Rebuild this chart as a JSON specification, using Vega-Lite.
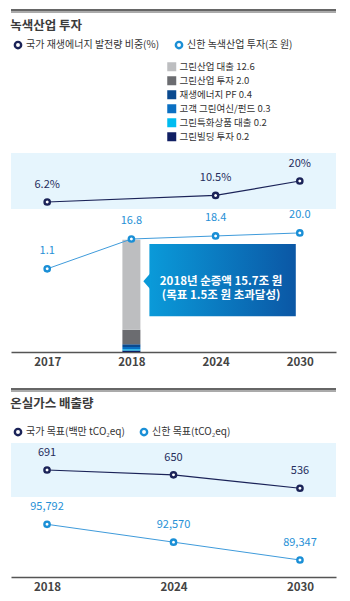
{
  "$schema": "https://vega.github.io/schema/vega-lite/v6.json",
  "padding": {"left": 10, "top": 9, "right": 15, "bottom": 0},
  "background": "white",
  "bounds": "flush",
  "spacing": 0,
  "config": {
    "view": {"stroke": null},
    "font": "Noto Sans CJK KR",
    "text": {"font": "Noto Sans CJK KR"},
    "legend": {"labelFont": "Noto Sans CJK KR", "padding": 0},
    "axis": {"labelFont": "Noto Sans CJK KR"},
    "title": {"font": "Noto Sans CJK KR"}
  },
  "resolve": {
    "scale": {"x": "independent", "y": "independent", "stroke": "independent", "fill": "independent", "color": "independent"},
    "legend": {"stroke": "independent", "fill": "independent"}
  },
  "datasets": {
    "energy": [
      {"year": "2017", "value": 6.2, "series": "국가 재생에너지 발전량 비중(%)", "label": "6.2%"},
      {"year": "2024", "value": 10.5, "series": "국가 재생에너지 발전량 비중(%)", "label": "10.5%"},
      {"year": "2030", "value": 20, "series": "국가 재생에너지 발전량 비중(%)", "label": "20%"}
    ],
    "invest": [
      {"year": "2017", "value": 1.1},
      {"year": "2018", "value": 16.8},
      {"year": "2024", "value": 18.4},
      {"year": "2030", "value": 20.0}
    ],
    "breakdown": [
      {"year": "2018", "item": "그린빌딩 투자 0.2", "amount": 0.2},
      {"year": "2018", "item": "그린특화상품 대출 0.2", "amount": 0.2},
      {"year": "2018", "item": "고객 그린여신/펀드 0.3", "amount": 0.3},
      {"year": "2018", "item": "재생에너지 PF 0.4", "amount": 0.4},
      {"year": "2018", "item": "그린산업 투자 2.0", "amount": 2.0},
      {"year": "2018", "item": "그린산업 대출 12.6", "amount": 12.6}
    ],
    "ghgNational": [
      {"year": "2018", "value": 691, "series": "국가 목표(백만 tCO₂eq)"},
      {"year": "2024", "value": 650, "series": "국가 목표(백만 tCO₂eq)"},
      {"year": "2030", "value": 536, "series": "국가 목표(백만 tCO₂eq)"}
    ],
    "ghgShinhan": [
      {"year": "2018", "value": 95792},
      {"year": "2024", "value": 92570},
      {"year": "2030", "value": 89347}
    ]
  },
  "vconcat": [
    {
      "width": 325, "height": 2,
      "data": {"values": [{}]},
      "title": {"text": "녹색산업 투자", "orient": "bottom", "anchor": "start", "fontSize": 12.5, "fontWeight": "bold", "color": "#3b3b3b", "offset": 8},
      "layer": [
        {"mark": {"type": "rule", "color": "#333333", "strokeWidth": 1.5}, "encoding": {"y": {"datum": 1, "type": "quantitative", "scale": {"domain": [0, 1]}, "axis": null}}},
        {"mark": {"type": "rule", "color": "#444444", "strokeWidth": 0.9}, "encoding": {"y": {"datum": 0, "type": "quantitative", "scale": {"domain": [0, 1]}, "axis": null}}}
      ]
    },
    {"width": 325, "height": 141, "data": {"values": []}, "mark": "point", "encoding": {}},
    {
      "width": 325, "height": 56,
      "view": {"fill": "#e6f5fd", "stroke": null},
      "data": {"name": "energy"},
      "encoding": {
        "x": {"field": "year", "type": "ordinal", "scale": {"type": "point", "domain": ["2017", "2018", "2024", "2030"], "padding": 0.43}, "axis": null},
        "y": {"field": "value", "type": "quantitative", "scale": {"domain": [1.6, 38.4], "nice": false, "zero": false}, "axis": null}
      },
      "layer": [
        {"mark": {"type": "line", "color": "#1b2358", "strokeWidth": 1.2}},
        {
          "mark": {"type": "point", "filled": true, "fill": "white", "size": 28, "strokeWidth": 2.4, "opacity": 1},
          "encoding": {
            "stroke": {
              "field": "series", "type": "nominal",
              "scale": {"domain": ["국가 재생에너지 발전량 비중(%)", "신한 녹색산업 투자(조 원)"], "range": ["#1b2358", "#1a8fd6"]},
              "legend": {"orient": "none", "legendX": 2, "legendY": -113, "direction": "horizontal", "title": null, "symbolType": "circle", "symbolSize": 40, "symbolStrokeWidth": 2.4, "symbolFillColor": "white", "labelFontSize": 10, "labelColor": "#333333", "labelOffset": 3, "columnPadding": 11}
            }
          }
        },
        {"mark": {"type": "text", "dy": -17, "fontSize": 11, "color": "#252d5c"}, "encoding": {"text": {"field": "label"}}}
      ]
    },
    {
      "width": 325, "height": 143,
      "resolve": {"scale": {"y": "independent"}},
      "layer": [
        {
          "layer": [
            {
              "data": {"name": "breakdown"},
              "transform": [{"window": [{"op": "row_number", "as": "stackOrder"}]}],
              "mark": {"type": "bar", "width": 18},
              "encoding": {
                "x": {"field": "year", "type": "ordinal", "scale": {"type": "point", "domain": ["2017", "2018", "2024", "2030"], "padding": 0.43},
                  "axis": {"title": null, "ticks": false, "domainColor": "#555555", "domainWidth": 1.3, "labelFontSize": 11.5, "labelFontWeight": "bold", "labelColor": "#444444", "labelPadding": 4, "labelAngle": 0, "grid": false}},
                "y": {"field": "amount", "type": "quantitative", "stack": "zero", "scale": {"domain": [0, 20], "nice": false}, "axis": null},
                "fill": {
                  "field": "item", "type": "nominal",
                  "scale": {
                    "domain": ["그린산업 대출 12.6", "그린산업 투자 2.0", "재생에너지 PF 0.4", "고객 그린여신/펀드 0.3", "그린특화상품 대출 0.2", "그린빌딩 투자 0.2"],
                    "range": ["#bdbec0", "#6b6c70", "#0a4a8f", "#0a6fc2", "#00bcf0", "#101f63"]
                  },
                  "legend": {"orient": "none", "legendX": 156, "legendY": -147, "title": null, "symbolType": "square", "symbolSize": 81, "symbolStrokeWidth": 0, "labelFontSize": 9.5, "labelColor": "#333333", "labelOffset": 3, "rowPadding": 3}
                },
                "order": {"field": "stackOrder", "type": "quantitative", "sort": "ascending"}
              }
            },
            {
              "data": {"values": [{}]},
              "mark": {
                "type": "rect", "xOffset": 18, "x2Offset": -4,
                "fill": {"gradient": "linear", "x1": 0, "y1": 0, "x2": 1, "y2": 0, "stops": [{"offset": 0, "color": "#0a9ad9"}, {"offset": 1, "color": "#0b57a5"}]}
              },
              "encoding": {
                "x": {"datum": "2018", "type": "ordinal"},
                "x2": {"datum": "2030"},
                "y": {"datum": 15.1, "type": "quantitative", "scale": {"domain": [0, 20], "nice": false}},
                "y2": {"datum": 5.0}
              }
            },
            {
              "data": {"values": [{}]},
              "mark": {"type": "point", "shape": "M 1.2,-1 L 0.33,0 L 1.2,1 Z", "size": 324, "filled": true, "fill": "#0a9ad9", "strokeWidth": 0, "opacity": 1, "xOffset": 9},
              "encoding": {
                "x": {"datum": "2018", "type": "ordinal"},
                "y": {"datum": 9.9, "type": "quantitative", "scale": {"domain": [0, 20], "nice": false}}
              }
            },
            {
              "data": {"values": [{}]},
              "mark": {"type": "text", "text": ["2018년 순증액 15.7조 원", "(목표 1.5조 원 초과달성)"], "fontSize": 11.5, "fontWeight": "bold", "color": "white", "lineHeight": 14.5, "align": "center", "baseline": "middle", "xOffset": 5.5},
              "encoding": {
                "x": {"datum": "2024", "type": "ordinal"},
                "y": {"datum": 9.8, "type": "quantitative", "scale": {"domain": [0, 20], "nice": false}}
              }
            }
          ]
        },
        {
          "data": {"name": "invest"},
          "encoding": {
            "x": {"field": "year", "type": "ordinal", "scale": {"type": "point", "domain": ["2017", "2018", "2024", "2030"], "padding": 0.43}},
            "y": {"field": "value", "type": "quantitative", "scale": {"domain": [-42.7, 32.6], "nice": false, "zero": false}, "axis": null}
          },
          "layer": [
            {"mark": {"type": "line", "color": "#3f9bdb", "strokeWidth": 1}},
            {"mark": {"type": "point", "filled": true, "fill": "white", "stroke": "#1a8fd6", "size": 28, "strokeWidth": 2.4, "opacity": 1}},
            {"mark": {"type": "text", "dy": -18, "fontSize": 11, "color": "#2690d6"}, "encoding": {"text": {"field": "value", "type": "quantitative", "format": ".1f"}}}
          ]
        }
      ]
    },
    {"width": 325, "height": 37, "data": {"values": []}, "mark": "point", "encoding": {}},
    {
      "width": 325, "height": 2,
      "data": {"values": [{}]},
      "title": {"text": "온실가스 배출량", "orient": "bottom", "anchor": "start", "fontSize": 12.5, "fontWeight": "bold", "color": "#3b3b3b", "offset": 7},
      "layer": [
        {"mark": {"type": "rule", "color": "#333333", "strokeWidth": 1.5}, "encoding": {"y": {"datum": 1, "type": "quantitative", "scale": {"domain": [0, 1]}, "axis": null}}},
        {"mark": {"type": "rule", "color": "#444444", "strokeWidth": 0.9}, "encoding": {"y": {"datum": 0, "type": "quantitative", "scale": {"domain": [0, 1]}, "axis": null}}}
      ]
    },
    {"width": 325, "height": 52, "data": {"values": []}, "mark": "point", "encoding": {}},
    {
      "width": 325, "height": 54,
      "view": {"fill": "#e6f5fd", "stroke": null},
      "data": {"name": "ghgNational"},
      "encoding": {
        "x": {"field": "year", "type": "ordinal", "scale": {"type": "point", "domain": ["2018", "2024", "2030"], "padding": 0.285}, "axis": null},
        "y": {"field": "value", "type": "quantitative", "scale": {"domain": [462, 920], "nice": false, "zero": false}, "axis": null}
      },
      "layer": [
        {"mark": {"type": "line", "color": "#1b2358", "strokeWidth": 1.2}},
        {
          "mark": {"type": "point", "filled": true, "fill": "white", "size": 28, "strokeWidth": 2.4, "opacity": 1},
          "encoding": {
            "stroke": {
              "field": "series", "type": "nominal",
              "scale": {"domain": ["국가 목표(백만 tCO₂eq)", "신한 목표(tCO₂eq)"], "range": ["#1b2358", "#1a8fd6"]},
              "legend": {"orient": "none", "legendX": 2, "legendY": -16, "direction": "horizontal", "title": null, "symbolType": "circle", "symbolSize": 40, "symbolStrokeWidth": 2.4, "symbolFillColor": "white", "labelFontSize": 10, "labelColor": "#333333", "labelOffset": 3, "columnPadding": 11}
            }
          }
        },
        {"mark": {"type": "text", "dy": -17, "fontSize": 11, "color": "#252d5c"}, "encoding": {"text": {"field": "value", "type": "quantitative", "format": "d"}}}
      ]
    },
    {
      "width": 325, "height": 80,
      "data": {"name": "ghgShinhan"},
      "encoding": {
        "x": {"field": "year", "type": "ordinal", "scale": {"type": "point", "domain": ["2018", "2024", "2030"], "padding": 0.285},
          "axis": {"title": null, "ticks": false, "domainColor": "#555555", "domainWidth": 1.3, "labelFontSize": 11.5, "labelFontWeight": "bold", "labelColor": "#444444", "labelPadding": 4, "labelAngle": 0, "grid": false}},
        "y": {"field": "value", "type": "quantitative", "scale": {"domain": [86280, 100720], "nice": false, "zero": false}, "axis": null}
      },
      "layer": [
        {"mark": {"type": "line", "color": "#3f9bdb", "strokeWidth": 1}},
        {"mark": {"type": "point", "filled": true, "fill": "white", "stroke": "#1a8fd6", "size": 28, "strokeWidth": 2.4, "opacity": 1}},
        {"mark": {"type": "text", "dy": -17, "fontSize": 11, "color": "#2690d6"}, "encoding": {"text": {"field": "value", "type": "quantitative", "format": ","}}}
      ]
    }
  ]
}
